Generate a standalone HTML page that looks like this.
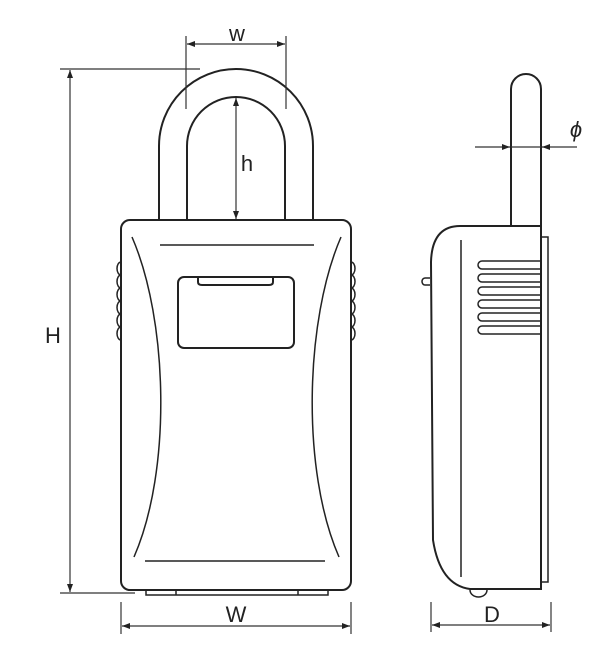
<!DOCTYPE html>
<html><head><style>body{margin:0;background:#fff}svg{display:block}</style></head><body>
<svg width="600" height="663" viewBox="0 0 600 663" xmlns="http://www.w3.org/2000/svg">
<defs><marker id="a" markerWidth="8" markerHeight="6" refX="8" refY="3" orient="auto" markerUnits="userSpaceOnUse"><path d="M0,0 L8,3 L0,6 z" fill="#222"/></marker></defs>
<g fill="none" stroke="#222" stroke-width="2">
<path d="M159,220 V146 A77,77 0 0 1 313,146 V220"/>
<path d="M187,220 V146 A49,49 0 0 1 285,146 V220"/>
<rect x="121" y="220" width="230" height="370" rx="9"/>
<path d="M132,237 C168,320 172,470 134,557" stroke-width="1.5"/>
<path d="M341,237 C305,320 301,470 339,557" stroke-width="1.5"/>
<line x1="160" y1="245" x2="314" y2="245" stroke-width="1.5"/>
<line x1="145" y1="561" x2="325" y2="561" stroke-width="1.5"/>
<rect x="178" y="277" width="116" height="71" rx="6"/>
<path d="M198,278 V282 Q198,285 202,285 H269 Q273,285 273,282 V278"/>
<path d="M146,590 V595 H328 V590 M176,590 V595 M298,590 V595" stroke-width="1.5"/>
<path d="M121,262 a4,6.5 0 0 0 0,13 a4,6.5 0 0 0 0,13 a4,6.5 0 0 0 0,13 a4,6.5 0 0 0 0,13 a4,6.5 0 0 0 0,13 a4,6.5 0 0 0 0,13" stroke-width="1.5"/>
<path d="M351,262 a4,6.5 0 0 1 0,13 a4,6.5 0 0 1 0,13 a4,6.5 0 0 1 0,13 a4,6.5 0 0 1 0,13 a4,6.5 0 0 1 0,13 a4,6.5 0 0 1 0,13" stroke-width="1.5"/>
<path d="M511,226 V89 A15,15 0 0 1 541,89 V226"/>
<path d="M541,226 H460 Q432,226 431,262 L433,540 Q440,585 470,589 H541 Z"/>
<rect x="541" y="237" width="7" height="345" stroke-width="1.5"/>
<line x1="461" y1="240" x2="461" y2="577" stroke-width="1.5"/>
<path d="M430,278 H425 a3,3.5 0 0 0 0,7 H430" stroke-width="1.5"/>
<path d="M470,590 a8.5,7 0 0 0 17,0" stroke-width="1.5"/>
<g stroke-width="1.5">
<path d="M541,261 H482 a4,4 0 0 0 0,8 H541"/>
<path d="M541,274 H482 a4,4 0 0 0 0,8 H541"/>
<path d="M541,287 H482 a4,4 0 0 0 0,8 H541"/>
<path d="M541,300 H482 a4,4 0 0 0 0,8 H541"/>
<path d="M541,313 H482 a4,4 0 0 0 0,8 H541"/>
<path d="M541,326 H482 a4,4 0 0 0 0,8 H541"/>
</g>
</g>
<g fill="none" stroke="#333" stroke-width="1.2">
<line x1="186" y1="36" x2="186" y2="109"/><line x1="286" y1="36" x2="286" y2="109"/>
<line x1="236" y1="44" x2="187" y2="44" marker-end="url(#a)"/><line x1="236" y1="44" x2="285" y2="44" marker-end="url(#a)"/>
<line x1="236" y1="160" x2="236" y2="98" marker-end="url(#a)"/><line x1="236" y1="160" x2="236" y2="219" marker-end="url(#a)"/>
<line x1="60" y1="69" x2="200" y2="69"/><line x1="60" y1="593" x2="135" y2="593"/>
<line x1="70" y1="330" x2="70" y2="70" marker-end="url(#a)"/><line x1="70" y1="330" x2="70" y2="592" marker-end="url(#a)"/>
<line x1="121" y1="602" x2="121" y2="634"/><line x1="351" y1="602" x2="351" y2="634"/>
<line x1="236" y1="626" x2="122" y2="626" marker-end="url(#a)"/><line x1="236" y1="626" x2="350" y2="626" marker-end="url(#a)"/>
<line x1="475" y1="147" x2="510" y2="147" marker-end="url(#a)"/><line x1="577" y1="147" x2="542" y2="147" marker-end="url(#a)"/>
<line x1="511" y1="147" x2="541" y2="147"/>
<line x1="431" y1="602" x2="431" y2="632"/><line x1="551" y1="602" x2="551" y2="632"/>
<line x1="491" y1="625" x2="432" y2="625" marker-end="url(#a)"/><line x1="491" y1="625" x2="550" y2="625" marker-end="url(#a)"/>
</g>
<g font-family="Liberation Sans, sans-serif" font-size="22" fill="#222" text-anchor="middle">
<text x="237" y="41">w</text>
<text x="247" y="171">h</text>
<text x="53" y="343">H</text>
<text x="236" y="622">W</text>
<text x="492" y="622">D</text>
<text x="576" y="137" font-style="italic">ϕ</text>
</g>
</svg>
</body></html>
